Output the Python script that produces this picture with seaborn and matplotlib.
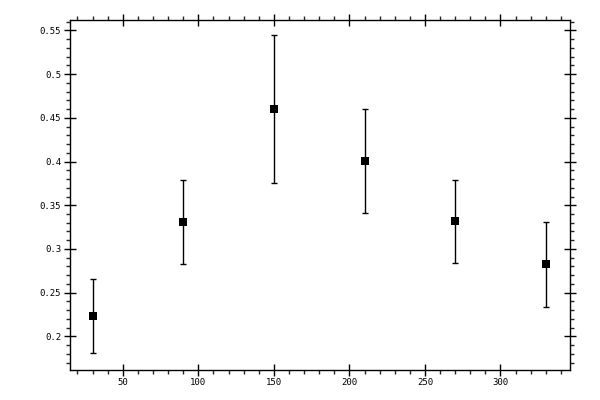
import numpy as np
import pandas as pd
import seaborn as sns
import matplotlib
matplotlib.use("Agg")
from matplotlib import pyplot as plt
from matplotlib.ticker import MultipleLocator, FuncFormatter

# data
angle = [30, 90, 150, 210, 270, 330]
value = [0.2229, 0.3313, 0.4596, 0.4002, 0.3315, 0.2824]
err = [0.0425, 0.048, 0.0847, 0.0595, 0.0475, 0.049]

df = pd.DataFrame({"angle": angle, "value": value, "err": err})

sns.set_style("ticks")
plt.rcParams['font.family'] = ['DejaVu Sans Mono', 'DejaVu Sans']

fig = plt.figure(figsize=(6, 4), dpi=100)
ax = fig.add_axes([0.116, 0.075, 0.834, 0.876])

ax.errorbar(df["angle"], df["value"], yerr=df["err"], fmt="none",
            ecolor="black", elinewidth=1, capsize=2, capthick=1)
sns.scatterplot(data=df, x="angle", y="value", marker="s", s=34,
                color="black", edgecolor="black", linewidth=0, ax=ax, zorder=3)

ax.set_xlim(14.8, 346)
ax.set_ylim(0.1615, 0.5624)
ax.set_xlabel("")
ax.set_ylabel("")

ax.xaxis.set_major_locator(MultipleLocator(50))
ax.xaxis.set_minor_locator(MultipleLocator(10))
ax.yaxis.set_major_locator(MultipleLocator(0.05))
ax.yaxis.set_minor_locator(MultipleLocator(0.01))
ax.yaxis.set_major_formatter(FuncFormatter(lambda v, p: "%g" % round(v, 2)))

for s in ax.spines.values():
    s.set_visible(True)
    s.set_linewidth(1)
    s.set_color("black")

ax.tick_params(which="major", direction="inout", length=8, width=1,
               top=True, right=True, labelsize=6.5, colors="black", pad=2)
ax.tick_params(which="minor", direction="out", length=3, width=1,
               top=True, right=True)

fig.savefig("out.png", dpi=100)
